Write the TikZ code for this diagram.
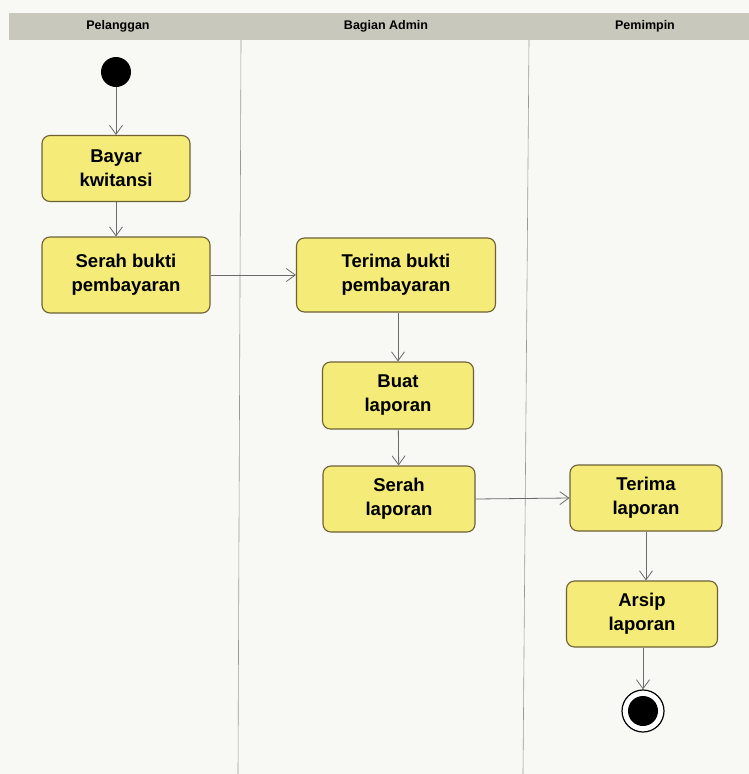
\documentclass[tikz,border=0pt]{standalone}
\usepackage{fontspec}
\setmainfont{Liberation Sans}
\usetikzlibrary{arrows.meta}
\definecolor{paper}{HTML}{F8F8F5}
\definecolor{headfill}{HTML}{C9C8BC}
\definecolor{boxfill}{HTML}{F4EB78}
\definecolor{boxdraw}{HTML}{6E6235}
\definecolor{flowgray}{HTML}{6A6A6A}
\tikzset{
  act/.style={draw=boxdraw, fill=boxfill, line width=1.1pt, rounded corners=8pt,
    align=center, inner sep=0pt, font=\fontsize{18.5}{24}\selectfont\bfseries},
  flow/.style={draw=flowgray, line width=0.8pt, -{Straight Barb[length=9pt,width=13pt]}},
  lanehead/.style={font=\fontsize{12.5}{14}\selectfont\bfseries},
  laneline/.style={draw=gray!80, line width=0.6pt}
}
\begin{document}
\begin{tikzpicture}[x=1pt,y=-1pt]
\useasboundingbox (0,0) rectangle (749,774);
\fill[paper] (0,0) rectangle (749,774);
% header band
\fill[headfill] (9,13) rectangle (749,40);
\node[lanehead] (h1) at (118,26) {Pelanggan};
\node[lanehead] (h2) at (386,26) {Bagian Admin};
\node[lanehead] (h3) at (645,26) {Pemimpin};
% lane dividers
\draw[laneline] (241,40) -- (238,774);
\draw[laneline] (529,40) -- (523,774);
% start
\node[circle, fill=black, minimum size=30pt, inner sep=0pt] (start) at (116,72) {};
% activities
\node[act, minimum width=148pt, minimum height=66pt] (bayar) at (116,168.5) {Bayar\\kwitansi};
\node[act, minimum width=168pt, minimum height=76pt] (serahbukti) at (126,275) {Serah bukti\\pembayaran};
\node[act, minimum width=199pt, minimum height=74pt] (terimabukti) at (396,275) {Terima bukti\\pembayaran};
\node[act, minimum width=151pt, minimum height=67pt] (buat) at (398,395.5) {Buat\\laporan};
\node[act, minimum width=152pt, minimum height=66pt] (serahlap) at (399,499) {Serah\\laporan};
\node[act, minimum width=152pt, minimum height=66pt] (terimalap) at (646,498) {Terima\\laporan};
\node[act, minimum width=151pt, minimum height=66pt] (arsip) at (642,614) {Arsip\\laporan};
% final
\node[circle, draw=black, line width=1.2pt, fill=white, minimum size=42pt, inner sep=0pt] (final) at (643,711) {};
\fill[black] (final.center) circle (15pt);
% flows
\draw[flow] (start) -- (start |- bayar.north);
\draw[flow] (bayar.south) -- (bayar.south |- serahbukti.north);
\draw[flow] (serahbukti.east) -- (terimabukti.west);
\draw[flow] (terimabukti.south -| buat) -- (buat.north);
\draw[flow] (buat) -- (serahlap);
\draw[flow] (serahlap.east) -- (terimalap.west);
\draw[flow] (terimalap.south) -- (terimalap.south |- arsip.north);
\draw[flow] (arsip.south -| final) -- (final.north);
\end{tikzpicture}
\end{document}
